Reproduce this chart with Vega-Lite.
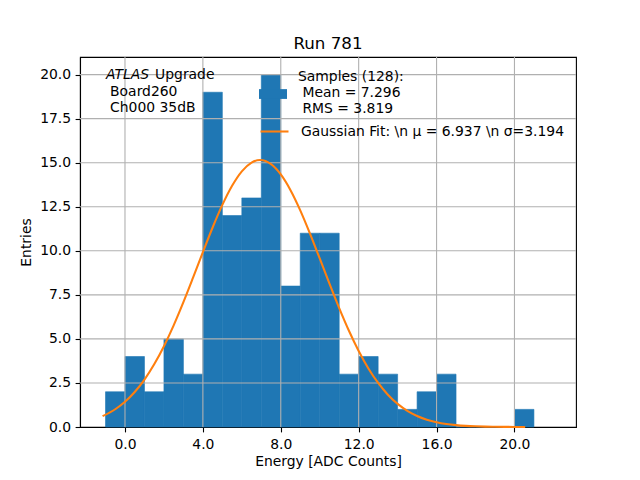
{
  "$schema": "https://vega.github.io/schema/vega-lite/v6.json",
  "autosize": "none",
  "width": 496,
  "height": 370,
  "padding": {"left": 80, "top": 57, "right": 64, "bottom": 53},
  "background": "white",
  "title": {"text": "Run 781", "fontSize": 16.7, "fontWeight": "normal", "font": "DejaVu Sans", "color": "black", "offset": 4},
  "config": {
    "font": "DejaVu Sans",
    "view": {"stroke": "black", "strokeWidth": 1.1},
    "axis": {
      "grid": false,
      "domainColor": "black",
      "domainWidth": 1.1,
      "tickColor": "black",
      "tickWidth": 1.1,
      "tickSize": 4.9,
      "labelFontSize": 13.9,
      "labelColor": "black",
      "titleFontSize": 13.9,
      "titleFontWeight": "normal",
      "titleColor": "black",
      "labelFlush": false
    },
    "legend": {
      "orient": "none",
      "padding": 0,
      "labelFontSize": 13.9,
      "labelColor": "black",
      "labelOffset": 11,
      "labelLimit": 0,
      "titleFontSize": 0
    }
  },
  "datasets": {
    "hist": [
      {"bin_start": -1, "bin_end": 0, "count": 2},
      {"bin_start": 0, "bin_end": 1, "count": 4},
      {"bin_start": 1, "bin_end": 2, "count": 2},
      {"bin_start": 2, "bin_end": 3, "count": 5},
      {"bin_start": 3, "bin_end": 4, "count": 3},
      {"bin_start": 4, "bin_end": 5, "count": 19},
      {"bin_start": 5, "bin_end": 6, "count": 12},
      {"bin_start": 6, "bin_end": 7, "count": 13},
      {"bin_start": 7, "bin_end": 8, "count": 20},
      {"bin_start": 8, "bin_end": 9, "count": 8},
      {"bin_start": 9, "bin_end": 10, "count": 11},
      {"bin_start": 10, "bin_end": 11, "count": 11},
      {"bin_start": 11, "bin_end": 12, "count": 3},
      {"bin_start": 12, "bin_end": 13, "count": 4},
      {"bin_start": 13, "bin_end": 14, "count": 3},
      {"bin_start": 14, "bin_end": 15, "count": 1},
      {"bin_start": 15, "bin_end": 16, "count": 2},
      {"bin_start": 16, "bin_end": 17, "count": 3},
      {"bin_start": 17, "bin_end": 18, "count": 0},
      {"bin_start": 18, "bin_end": 19, "count": 0},
      {"bin_start": 19, "bin_end": 20, "count": 0},
      {"bin_start": 20, "bin_end": 21, "count": 1}
    ],
    "fit": [
      {"x": -1.15, "y": 0.614},
      {"x": -0.5, "y": 1.007},
      {"x": 0, "y": 1.433},
      {"x": 0.5, "y": 1.988},
      {"x": 1, "y": 2.692},
      {"x": 1.5, "y": 3.559},
      {"x": 2, "y": 4.588},
      {"x": 2.5, "y": 5.772},
      {"x": 3, "y": 7.087},
      {"x": 3.5, "y": 8.49},
      {"x": 4, "y": 9.926},
      {"x": 4.5, "y": 11.323},
      {"x": 5, "y": 12.605},
      {"x": 5.5, "y": 13.691},
      {"x": 6, "y": 14.512},
      {"x": 6.5, "y": 15.009},
      {"x": 6.937, "y": 15.15},
      {"x": 7.5, "y": 14.916},
      {"x": 8, "y": 14.334},
      {"x": 8.5, "y": 13.441},
      {"x": 9, "y": 12.298},
      {"x": 9.5, "y": 10.979},
      {"x": 10, "y": 9.566},
      {"x": 10.5, "y": 8.133},
      {"x": 11, "y": 6.746},
      {"x": 11.5, "y": 5.46},
      {"x": 12, "y": 4.313},
      {"x": 12.5, "y": 3.324},
      {"x": 13, "y": 2.5},
      {"x": 13.5, "y": 1.835},
      {"x": 14, "y": 1.314},
      {"x": 14.5, "y": 0.918},
      {"x": 15, "y": 0.626},
      {"x": 15.5, "y": 0.417},
      {"x": 16, "y": 0.27},
      {"x": 16.5, "y": 0.171},
      {"x": 17, "y": 0.106},
      {"x": 17.5, "y": 0.064},
      {"x": 18, "y": 0.038},
      {"x": 18.5, "y": 0.022},
      {"x": 19, "y": 0.012},
      {"x": 19.5, "y": 0.007},
      {"x": 20, "y": 0.004},
      {"x": 20.55, "y": 0.002}
    ],
    "xgrid": [{"v": 0}, {"v": 4}, {"v": 8}, {"v": 12}, {"v": 16}, {"v": 20}],
    "ygrid": [{"v": 2.5}, {"v": 5}, {"v": 7.5}, {"v": 10}, {"v": 12.5}, {"v": 15}, {"v": 17.5}, {"v": 20}],
    "note": [{"dummy": 0}]
  },
  "layer": [
    {
      "data": {"name": "hist"},
      "mark": {"type": "bar", "stroke": "#1f77b4", "strokeWidth": 0.6},
      "encoding": {
        "x": {
          "field": "bin_start", "type": "quantitative",
          "scale": {"domain": [-2.31, 23.16], "nice": false, "zero": false},
          "axis": {"title": "Energy [ADC Counts]", "values": [0, 4, 8, 12, 16, 20], "format": ".1f", "labelPadding": 6, "titlePadding": 3}
        },
        "x2": {"field": "bin_end"},
        "y": {
          "field": "count", "type": "quantitative",
          "scale": {"domain": [0, 21], "nice": false},
          "axis": {"title": "Entries", "values": [0, 2.5, 5, 7.5, 10, 12.5, 15, 17.5, 20], "format": ".1f", "labelPadding": 4.5, "titlePadding": 6}
        },
        "y2": {"datum": 0},
        "fill": {
          "datum": "samples",
          "scale": {"domain": ["samples"], "range": ["#1f77b4"]},
          "legend": {
            "legendX": 179,
            "legendY": 6,
            "symbolType": "M-1,0.866L1,0.866L1,1.566L-1,1.566Z",
            "symbolSize": 784,
            "symbolStrokeWidth": 0,
            "labelExpr": "['Samples (128):', '\u200b\u00a0Mean = 7.296', '\u200b\u00a0RMS = 3.819']"
          }
        }
      }
    },
    {
      "data": {"name": "xgrid"},
      "mark": {"type": "rule", "color": "#b0b0b0", "strokeWidth": 1.1},
      "encoding": {"x": {"field": "v", "type": "quantitative"}}
    },
    {
      "data": {"name": "ygrid"},
      "mark": {"type": "rule", "color": "#b0b0b0", "strokeWidth": 1.1},
      "encoding": {"y": {"field": "v", "type": "quantitative"}}
    },
    {
      "data": {"name": "fit"},
      "mark": {"type": "line", "strokeWidth": 2.08, "interpolate": "monotone"},
      "encoding": {
        "x": {"field": "x", "type": "quantitative"},
        "y": {"field": "y", "type": "quantitative"},
        "stroke": {
          "datum": "Gaussian Fit: \\n \u03bc = 6.937 \\n \u03c3=3.194",
          "scale": {"range": ["#ff7f0e"]},
          "legend": {
            "legendX": 179,
            "legendY": 59,
            "symbolType": "stroke",
            "symbolSize": 784,
            "symbolStrokeWidth": 2.08
          }
        }
      }
    },
    {
      "data": {"name": "note"},
      "mark": {"type": "text", "text": "ATLAS", "fontStyle": "italic", "fontSize": 13.9, "align": "left", "baseline": "middle", "color": "black"},
      "encoding": {"x": {"datum": -0.97}, "y": {"datum": 20.0}}
    },
    {
      "data": {"name": "note"},
      "mark": {"type": "text", "text": "Upgrade", "fontSize": 13.9, "align": "left", "baseline": "middle", "color": "black", "dx": 49},
      "encoding": {"x": {"datum": -0.97}, "y": {"datum": 20.0}}
    },
    {
      "data": {"name": "note"},
      "mark": {"type": "text", "text": ["Board260", "Ch000 35dB"], "fontSize": 13.9, "lineHeight": 16.6, "align": "left", "baseline": "top", "color": "black", "dx": 4},
      "encoding": {"x": {"datum": -0.97}, "y": {"datum": 19.42}}
    }
  ]
}
